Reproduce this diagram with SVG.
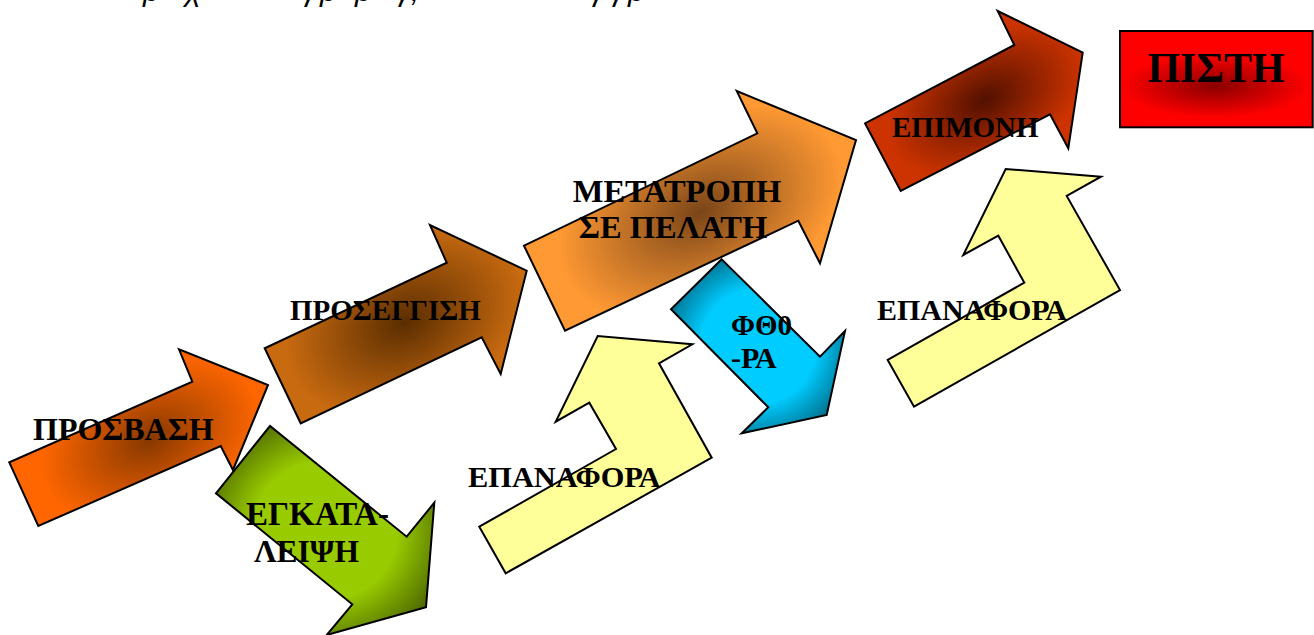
<svg xmlns="http://www.w3.org/2000/svg" width="1314" height="635" viewBox="0 0 1314 635">
<style>
.shape{stroke:#000;stroke-width:2;stroke-linejoin:miter}
.lbl{font-family:"Liberation Serif","Times New Roman",serif;font-weight:bold;font-size:29px;fill:#000}
.l32{font-size:32px}
.l30{font-size:30px}
.big{font-size:42px}
.top{font-family:"Liberation Sans",Arial,sans-serif;font-style:italic;font-size:30px;fill:#000}
</style>
<defs>
<radialGradient id="g1" gradientUnits="userSpaceOnUse" cx="0" cy="0" r="1" gradientTransform="translate(150 440) rotate(-24) scale(115 75)">
<stop offset="0" stop-color="#863800"/><stop offset="1" stop-color="#FF6600"/></radialGradient>
<radialGradient id="g2" gradientUnits="userSpaceOnUse" cx="0" cy="0" r="1" gradientTransform="translate(405 322) rotate(-25) scale(125 85)">
<stop offset="0" stop-color="#5A2D00"/><stop offset="1" stop-color="#C86A10"/></radialGradient>
<radialGradient id="g3" gradientUnits="userSpaceOnUse" cx="0" cy="0" r="1" gradientTransform="translate(700 212) rotate(-25) scale(150 95)">
<stop offset="0" stop-color="#7A4518"/><stop offset="1" stop-color="#FF9933"/></radialGradient>
<radialGradient id="g4" gradientUnits="userSpaceOnUse" cx="0" cy="0" r="1" gradientTransform="translate(985 100) rotate(-28) scale(105 65)">
<stop offset="0" stop-color="#521000"/><stop offset="1" stop-color="#CC3300"/></radialGradient>
<radialGradient id="gp" gradientUnits="userSpaceOnUse" cx="0" cy="0" r="1" gradientTransform="translate(1215 86) scale(95 32)">
<stop offset="0" stop-color="#8A0000"/><stop offset="1" stop-color="#FF0000"/></radialGradient>
<radialGradient id="gg" cx="0.5" cy="0.5" r="0.6">
<stop offset="0.55" stop-color="#99CC00"/><stop offset="1" stop-color="#4A6300"/></radialGradient>
<radialGradient id="gb" cx="0.5" cy="0.5" r="0.6">
<stop offset="0.55" stop-color="#00CCFF"/><stop offset="1" stop-color="#005F78"/></radialGradient>
</defs>

<g id="header">
<text class="top" y="0.5"><tspan x="143">ρ</tspan><tspan x="185">χ</tspan><tspan x="302">γ</tspan><tspan x="320">ρ</tspan><tspan x="355">ρ</tspan><tspan x="396">γ</tspan><tspan x="411">,</tspan><tspan x="590">γ</tspan><tspan x="610">γ</tspan><tspan x="628">ρ</tspan></text>
</g>

<g id="connectors"></g>

<g id="prosvasi">
<polygon class="shape" fill="url(#g1)" points="9.3,462.3 38.3,526 220.7,446 233,470 268,385 179,349.3 192.3,381.7"/>
<text class="lbl l32" x="33" y="440">ΠΡΟΣΒΑΣΗ</text>
</g>

<g id="proseggisi">
<polygon class="shape" fill="url(#g2)" points="264.7,348.3 300.7,423.3 481.7,337.3 500.7,374 526.7,270.7 430,225 446.7,262.7"/>
<text class="lbl" x="290" y="320">ΠΡΟΣΕΓΓΙΣΗ</text>
</g>

<g id="fthora">
<polygon class="shape" fill="url(#gb)" points="721.7,259.3 671,309.3 768.3,407.3 741.7,433.3 826.7,415 845,331 820,356.7"/>
<text class="lbl" x="731" y="335">ΦΘ0</text>
<text class="lbl l30" x="731" y="368">-ΡΑ</text>
</g>

<g id="metatropi">
<polygon class="shape" fill="url(#g3)" points="524,245.7 565,330.7 798.3,220.7 820,263.3 856,140 736.7,91 757.3,133.3"/>
<text class="lbl l32" x="677" y="202" text-anchor="middle" style="font-size:32.5px">ΜΕΤΑΤΡΟΠΗ</text>
<text class="lbl l32" x="673" y="238" text-anchor="middle" style="font-size:32.5px">ΣΕ ΠΕΛΑΤΗ</text>
</g>

<g id="epimoni">
<polygon class="shape" fill="url(#g4)" points="865,123.3 900.7,191 1050,114.3 1068.3,148.3 1082.7,52.7 997.7,11 1014.3,45"/>
<text class="lbl" x="892" y="137">ΕΠΙΜΟΝΗ</text>
</g>

<g id="pisti">
<rect class="shape" x="1120" y="31" width="192.7" height="96.3" fill="url(#gp)" stroke="#222"/>
<text class="lbl big" x="1216" y="82" text-anchor="middle">ΠΙΣΤΗ</text>
</g>

<g id="egkataleipsi">
<polygon class="shape" fill="url(#gg)" points="270,426 216,493.3 352.3,604.3 326.7,635 426,607.3 434.3,502.7 406.7,536.7"/>
<text class="lbl" x="246" y="525" style="font-size:33px">ΕΓΚΑΤΑ-</text>
<text class="lbl" x="254" y="562" style="font-size:31.5px">ΛΕΙΨΗ</text>
</g>

<g id="epanafora1">
<polygon class="shape" fill="#FFFF99" points="479.3,526.7 505.7,573.3 711.7,457.7 659,363.3 692.3,344.3 597.7,336 555.7,421.7 589.3,402.7 616,449"/>
<text class="lbl l30" x="468" y="487" style="font-size:30.4px">ΕΠΑΝΑΦΟΡΑ</text>
</g>

<g id="epanafora2">
<polygon class="shape" fill="#FFFF99" points="887.7,360 914,406.7 1120,290 1066.7,196 1101,176.7 1005.7,169 963.3,255 998.3,235.7 1024.3,282.7"/>
<text class="lbl l30" x="877" y="320">ΕΠΑΝΑΦΟΡΑ</text>
</g>
</svg>
